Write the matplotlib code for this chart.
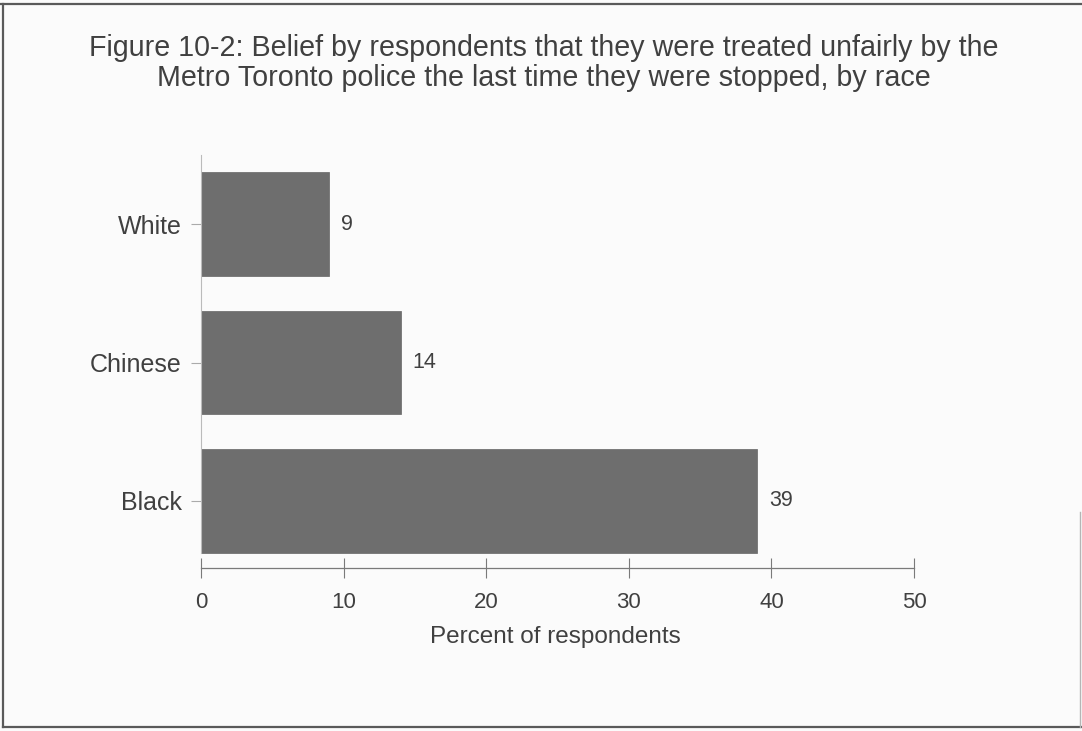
import matplotlib
matplotlib.use('Agg')
import matplotlib.pyplot as plt
from matplotlib.lines import Line2D

races = ['Black', 'Chinese', 'White']
percents = [39, 14, 9]
x_ticks = [0, 10, 20, 30, 40, 50]

title = ('Figure 10-2: Belief by respondents that they were treated unfairly by the\n'
         'Metro Toronto police the last time they were stopped, by race')

plt.rcParams['font.family'] = ['Liberation Sans', 'DejaVu Sans']
text_color = '#404040'
line_color = '#7a7a7a'

fig = plt.figure(figsize=(10.82, 7.31), dpi=100)
fig.patch.set_facecolor('#fbfbfb')

# frame around the figure (the scan shows top, left and bottom edges clearly)
frame = dict(transform=fig.transFigure, color='#5a5a5a', linewidth=1.6)
fig.lines.append(Line2D([0.0, 1.0], [0.994, 0.994], **frame))
fig.lines.append(Line2D([0.003, 0.003], [0.994, 0.006], **frame))
fig.lines.append(Line2D([0.003, 1.0], [0.006, 0.006], **frame))
fig.lines.append(Line2D([0.9985, 0.9985], [0.006, 0.30], transform=fig.transFigure,
                        color='#b5b5b5', linewidth=1.0))

fig.text(0.503, 0.953, title, ha='center', va='top', fontsize=20.6,
         color=text_color, linespacing=1.08)

ax = fig.add_axes([0.1858, 0.223, 0.6589, 0.565])
ax.set_facecolor('none')

ypos = range(len(races))
ax.barh(ypos, percents, height=0.75, color='#6e6e6e', edgecolor='#666666', linewidth=0.5)

for y, v in zip(ypos, percents):
    ax.text(v + 0.85, y, str(v), va='center', ha='left', fontsize=15.5, color=text_color)

ax.set_xlim(0, 50)
ax.set_ylim(-0.484, 2.5)
ax.set_xticks(x_ticks)
ax.set_yticks(list(ypos))
ax.set_yticklabels(races)

for side in ['top', 'right']:
    ax.spines[side].set_visible(False)
ax.spines['left'].set_bounds(-0.375, 2.5)
ax.spines['left'].set_color('#bbbbbb')
ax.spines['left'].set_linewidth(0.8)
ax.spines['bottom'].set_color(line_color)
ax.spines['bottom'].set_linewidth(0.9)

ax.tick_params(axis='x', direction='inout', length=14, width=0.8, color=line_color,
               labelsize=16, labelcolor=text_color, pad=10)
ax.tick_params(axis='y', direction='out', length=7, width=0.8, color='#aaaaaa',
               labelsize=18, labelcolor=text_color, pad=7)

ax.set_xlabel('Percent of respondents', fontsize=17.5, color=text_color, va='center')
ax.xaxis.set_label_coords(0.4965, -0.167)

fig.savefig('out.png', dpi=100, facecolor=fig.get_facecolor())
